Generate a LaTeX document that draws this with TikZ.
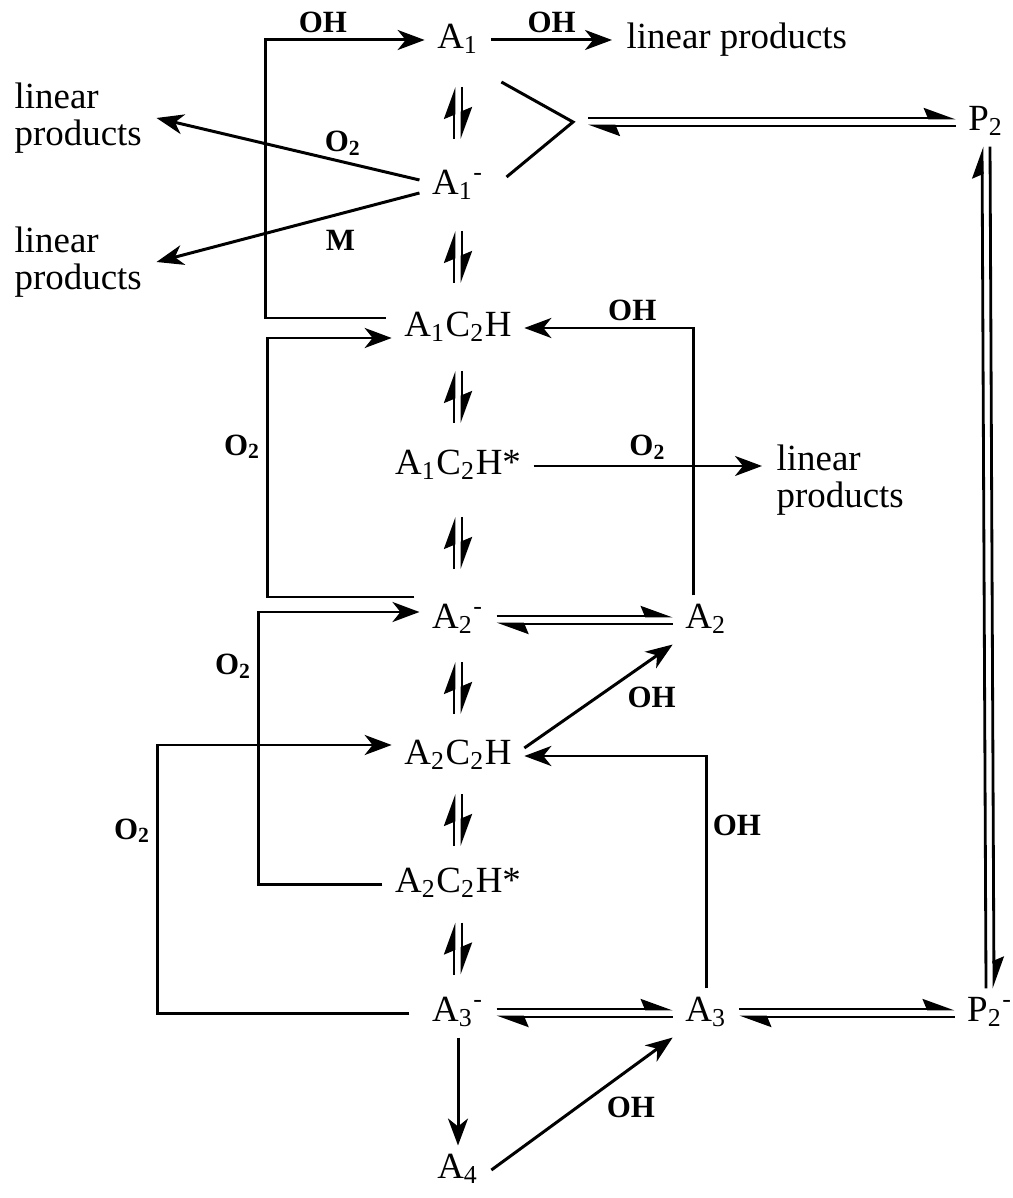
\documentclass[tikz,border=0pt]{standalone}
\usepackage{fontspec}
\setmainfont{Liberation Serif}
\usepackage{tikz}
\usetikzlibrary{arrows.meta,positioning,calc}
\tikzset{
  rxn/.style={inner xsep=1.2mm,inner ysep=0.8mm,text height=0.68em,text depth=0.22em,
              font=\fontsize{10.5}{11}\selectfont},
  rxnprod/.style={inner xsep=1.4mm,inner ysep=0.5mm,align=left,font=\fontsize{10.5}{10.6}\selectfont},
  rxnflow/.style={-{Stealth[length=2.7mm,width=2mm,inset=0.8mm]},line width=0.85pt},
  rxnline/.style={line width=0.85pt},
  rxnfwd/.style={-{Stealth[harpoon,length=2.8mm,width=2mm,inset=0.4mm]},line width=0.8pt},
  rxnlbl/.style={font=\fontsize{8.8}{10}\selectfont\bfseries,inner sep=1.5pt},
}

\begin{document}
\begin{tikzpicture}[x=0.1mm,y=-0.1mm]
  \useasboundingbox (0,0) rectangle (1012,1198);
  % species
  \node[rxn] (A1) at (458,40) {A\textsubscript{1}};
  \node[rxn] (A1m) at (458,186) {A\textsubscript{1}\textsuperscript{-}};
  \node[rxn] (A1C2H) at (458,328) {A\textsubscript{1}C\textsubscript{2}H};
  \node[rxn] (A1C2Hs) at (458,466) {A\textsubscript{1}C\textsubscript{2}H*};
  \node[rxn] (A2m) at (458,620) {A\textsubscript{2}\textsuperscript{-}};
  \node[rxn] (A2C2H) at (458,756) {A\textsubscript{2}C\textsubscript{2}H};
  \node[rxn] (A2C2Hs) at (458,884) {A\textsubscript{2}C\textsubscript{2}H*};
  \node[rxn] (A3m) at (458,1013) {A\textsubscript{3}\textsuperscript{-}};
  \node[rxn] (A4) at (458,1170) {A\textsubscript{4}};
  \node[rxn] (A2) at (706,620) {A\textsubscript{2}};
  \node[rxn] (A3) at (706,1013) {A\textsubscript{3}};
  \node[rxn] (P2) at (986,122) {P\textsubscript{2}};
  \node[rxn] (P2m) at (990,1013) {P\textsubscript{2}\textsuperscript{-}};
  \node[rxnprod,anchor=west] (lpTop) at (612,40) {linear products};
  \node[rxnprod,anchor=west] (lpUL) at (0,118) {linear\\products};
  \node[rxnprod,anchor=west] (lpLL) at (0,262) {linear\\products};
  \node[rxnprod,anchor=west] (lpMid) at (762,480) {linear\\products};
  \coordinate (brk) at (573,122);

  % one-way steps
  \draw[rxnflow] (A1) -- node[rxnlbl,above]{OH} (lpTop);
  \draw[rxnflow] ([yshift=0.6mm]A1m.west) -- node[rxnlbl,above,pos=0.29]{O\textsubscript{2}} (lpUL.east);
  \draw[rxnflow] ([yshift=-0.7mm]A1m.west) -- node[rxnlbl,below=1mm,pos=0.3]{M} (lpLL.east);
  \draw[rxnflow] ([xshift=-0.6mm,yshift=1mm]A1C2H.west) -- ++(-120,0) |- node[rxnlbl,above,pos=0.68]{OH} (A1.west);
  \draw[rxnflow] ([xshift=-0.5mm,yshift=2.3mm]A2m.west) -- ++(-147,0) |- node[rxnlbl,left,pos=0.29]{O\textsubscript{2}} ([yshift=-1mm]A1C2H.west);
  \draw[rxnflow] (A1C2Hs.east) -- node[rxnlbl,above]{O\textsubscript{2}} (A1C2Hs.east -| lpMid.west);
  \draw[rxnflow] ([xshift=-1.3mm]A2.north) |- node[rxnlbl,above,pos=0.68]{OH} (A1C2H.east);
  \draw[rxnflow] (A2C2Hs.west) -- ++(-124,0) |- node[rxnlbl,left,pos=0.4]{O\textsubscript{2}} ([yshift=0.8mm]A2m.west);
  \draw[rxnflow] ([yshift=0.8mm]A2C2H.east) -- node[rxnlbl,pos=0.65,below right]{OH} (A2.south west);
  \draw[rxnflow] ([xshift=-1mm]A3m.west) -- ++(-252,0) |- node[rxnlbl,left,pos=0.34]{O\textsubscript{2}} ([yshift=1.1mm]A2C2H.west);
  \draw[rxnflow] (A3.north) |- node[rxnlbl,right,pos=0.35]{OH} (A2C2H.east);
  \draw[rxnflow] (A3m) -- (A4);
  \draw[rxnflow] (A4.east) -- node[rxnlbl,pos=0.6,below right]{OH} (A3.south west);

  % A1 and A1- together to P2
  \draw[rxnline] ([xshift=1mm,yshift=-4.2mm]A1.east) -- (brk) -- ([xshift=1mm,yshift=0.9mm]A1m.east);

  % equilibria
  \foreach \up/\dn in {A1/A1m,A1m/A1C2H,A1C2H/A1C2Hs,A1C2Hs/A2m,A2m/A2C2H,A2C2H/A2C2Hs,A2C2Hs/A3m}{
    \draw[rxnfwd] ($(\up)!0.5!(\dn)+(-4,26)$) -- ++(0,-52);
    \draw[rxnfwd] ($(\up)!0.5!(\dn)+(4,-26)$) -- ++(0,52);
  }
  \draw[rxnfwd] ([xshift=1.5mm,yshift=0.4mm]brk) -- ([yshift=0.4mm]P2.west);
  \draw[rxnfwd] ([yshift=-0.4mm]P2.west) -- ([xshift=1.5mm,yshift=-0.4mm]brk);
  \draw[rxnfwd] ([xshift=-0.4mm]P2m.north) -- ([xshift=-0.4mm]P2.south);
  \draw[rxnfwd] ([xshift=0.4mm]P2.south) -- ([xshift=0.4mm]P2m.north);
  \draw[rxnfwd] ([yshift=0.4mm]A2m.east) -- ([yshift=0.4mm]A2.west);
  \draw[rxnfwd] ([yshift=-0.4mm]A2.west) -- ([yshift=-0.4mm]A2m.east);
  \draw[rxnfwd] ([yshift=0.4mm]A3m.east) -- ([yshift=0.4mm]A3.west);
  \draw[rxnfwd] ([yshift=-0.4mm]A3.west) -- ([yshift=-0.4mm]A3m.east);
  \draw[rxnfwd] ([yshift=0.4mm]A3.east) -- ([yshift=0.4mm]P2m.west);
  \draw[rxnfwd] ([yshift=-0.4mm]P2m.west) -- ([yshift=-0.4mm]A3.east);
\end{tikzpicture}
\end{document}
